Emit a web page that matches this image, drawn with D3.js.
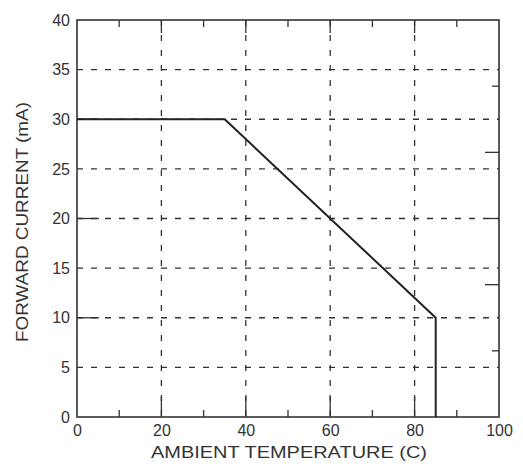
<!DOCTYPE html>
<html>
<head>
<meta charset="utf-8">
<script src="https://cdn.jsdelivr.net/npm/d3@7"></script>
<style>
  body { margin: 0; background: #fff; }
  text { font-family: "Liberation Sans", Arial, sans-serif; fill: #333; }
</style>
</head>
<body>
<div id="vizContainer"></div>
<script>
// derating curve: forward current vs ambient temperature
const temps = [0, 35, 85, 85];
const currents = [30, 30, 10, 0];

const xTicks = [0, 20, 40, 60, 80, 100];
const yTicks = [0, 5, 10, 15, 20, 25, 30, 35, 40];
const xMinor = [10, 30, 50, 70, 90];
const yMajorLeft = [10, 20, 30];
const yRight = [40 / 6, 80 / 6, 20, 160 / 6, 200 / 6];
const yRightLen = [7, 14, 10, 14, 7];

const width = 523;
const height = 464;
const margin = { top: 20, right: 24, bottom: 47, left: 77 };

const svg = d3.select("#vizContainer")
  .append("svg")
  .attr("width", width)
  .attr("height", height);

const x = d3.scaleLinear().domain([0, 100]).range([margin.left, width - margin.right]);
const y = d3.scaleLinear().domain([0, 40]).range([height - margin.bottom, margin.top]);

const ink = "#333";

// dashed grid
svg.append("g")
  .selectAll("line")
  .data(xTicks.slice(1, -1))
  .enter()
  .append("line")
  .attr("x1", d => x(d)).attr("x2", d => x(d))
  .attr("y1", y(40)).attr("y2", y(0))
  .attr("stroke", ink).attr("stroke-width", 1.3)
  .attr("stroke-dasharray", "6,9");

svg.append("g")
  .selectAll("line")
  .data(yTicks.slice(1, -1))
  .enter()
  .append("line")
  .attr("x1", x(0)).attr("x2", x(100))
  .attr("y1", d => y(d)).attr("y2", d => y(d))
  .attr("stroke", ink).attr("stroke-width", 1.3)
  .attr("stroke-dasharray", "6,8");

// solid ticks
const ticks = svg.append("g").attr("stroke", ink).attr("stroke-width", 1.3);
xTicks.slice(1, -1).forEach(d => {
  ticks.append("line").attr("x1", x(d)).attr("x2", x(d)).attr("y1", y(0)).attr("y2", y(0) - 20);
  ticks.append("line").attr("x1", x(d)).attr("x2", x(d)).attr("y1", y(40)).attr("y2", y(40) + 13);
});
xMinor.forEach(d => {
  ticks.append("line").attr("x1", x(d)).attr("x2", x(d)).attr("y1", y(0)).attr("y2", y(0) - 7);
  ticks.append("line").attr("x1", x(d)).attr("x2", x(d)).attr("y1", y(40)).attr("y2", y(40) + 7);
});
yMajorLeft.forEach(d => {
  ticks.append("line").attr("x1", x(0)).attr("x2", x(0) + 22).attr("y1", y(d)).attr("y2", y(d));
});
yRight.forEach((d, i) => {
  ticks.append("line").attr("x1", x(100)).attr("x2", x(100) - yRightLen[i]).attr("y1", y(d)).attr("y2", y(d));
});

// frame
svg.append("rect")
  .attr("x", x(0)).attr("y", y(40))
  .attr("width", x(100) - x(0)).attr("height", y(0) - y(40))
  .attr("fill", "none").attr("stroke", ink).attr("stroke-width", 1.6);

// curve
const pts = temps.map((t, i) => [t, currents[i]]);
svg.append("path")
  .datum(pts)
  .attr("d", d3.line().x(d => x(d[0])).y(d => y(d[1])))
  .attr("fill", "none")
  .attr("stroke", "#222")
  .attr("stroke-width", 2);

// tick labels
const xAxis = svg.append("g")
  .attr("transform", `translate(0,${y(0)})`)
  .call(d3.axisBottom(x).tickValues(xTicks).tickSize(0).tickPadding(5));
const yAxis = svg.append("g")
  .attr("transform", `translate(${x(0)},0)`)
  .call(d3.axisLeft(y).tickValues(yTicks).tickSize(0).tickPadding(7));
[xAxis, yAxis].forEach(g => {
  g.select(".domain").remove();
  g.selectAll("text").style("font-size", "16px").attr("fill", ink);
});
xAxis.selectAll("text").attr("dy", "0.9em");

// axis titles
svg.append("text")
  .attr("x", 289).attr("y", 458)
  .attr("text-anchor", "middle")
  .style("font-size", "16px")
  .attr("textLength", 276).attr("lengthAdjust", "spacingAndGlyphs")
  .text("AMBIENT TEMPERATURE (C)");

svg.append("text")
  .attr("transform", "translate(28,222) rotate(-90)")
  .attr("text-anchor", "middle")
  .style("font-size", "17px")
  .attr("textLength", 240).attr("lengthAdjust", "spacingAndGlyphs")
  .text("FORWARD CURRENT (mA)");
</script>
</body>
</html>
